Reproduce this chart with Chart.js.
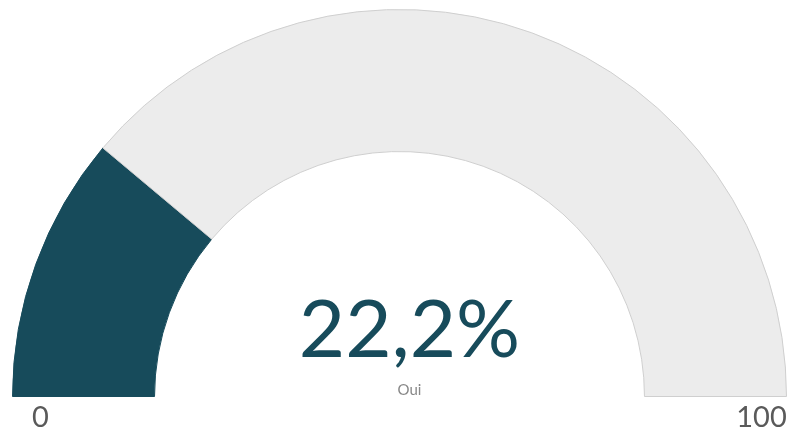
<!DOCTYPE html>
<html>
<head>
<meta charset="utf-8">
<script src="https://cdn.jsdelivr.net/npm/chart.js@4"></script>
<style>
  html, body { margin: 0; padding: 0; background: #fff; }
  #wrap { width: 789px; height: 431px; position: relative; }
</style>
</head>
<body>
<div id="wrap"><canvas id="gaugeChart"></canvas></div>
<script>
// gauge data
const categories = ['Oui', 'Reste'];
const values = [22.2, 77.8];
const scaleLabels = ['0', '100'];
const valueLabel = '22,2%';

const TEAL = '#174b5b';
const GREY = '#ececec';

// texte au centre + bornes 0 / 100
const gaugeText = {
  id: 'gaugeText',
  afterDraw(chart) {
    const ctx = chart.ctx;
    const arc = chart.getDatasetMeta(0).data[0];
    const cx = arc.x, cy = arc.y;
    const outer = arc.outerRadius;
    ctx.save();
    ctx.textAlign = 'center';
    ctx.textBaseline = 'alphabetic';

    ctx.fillStyle = TEAL;
    ctx.font = 'normal 80px Lato';
    ctx.fillText(valueLabel, cx + 10, cy - 40);

    ctx.fillStyle = '#888';
    ctx.font = '15px Lato';
    ctx.fillText(categories[0], cx + 10, cy - 2);

    ctx.fillStyle = '#5a5a5a';
    ctx.font = '29px Lato';
    ctx.fillText(scaleLabels[0], cx - outer + 28, cy + 30);
    ctx.fillText(scaleLabels[1], cx + outer - 25, cy + 30);
    ctx.restore();
  }
};

const ctx = document.querySelector('#gaugeChart').getContext('2d');
const myChart = new Chart(ctx, {
  type: 'doughnut',
  data: {
    labels: categories,
    datasets: [{
      data: values,
      backgroundColor: [TEAL, GREY],
      borderColor: [TEAL, '#cfcfcf'],
      borderWidth: 1,
    }],
  },
  options: {
    responsive: true,
    maintainAspectRatio: false,
    animation: false,
    rotation: -90,
    circumference: 180,
    cutout: '63.3%',
    layout: { padding: { left: 12, right: 2, top: 9, bottom: 34 } },
    plugins: {
      legend: { display: false },
      tooltip: { enabled: false }
    }
  },
  plugins: [gaugeText]
});
</script>
</body>
</html>
